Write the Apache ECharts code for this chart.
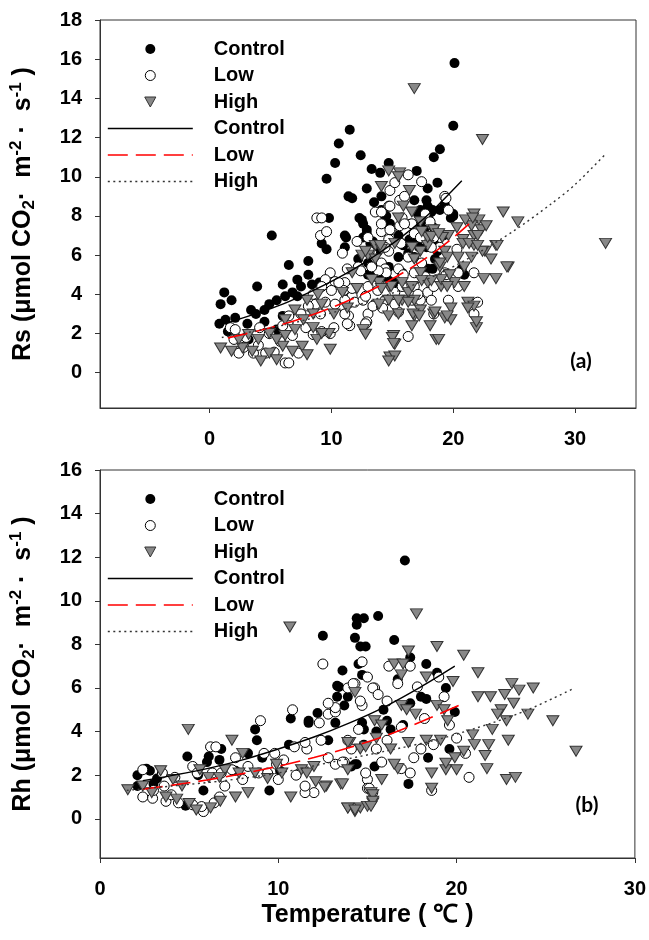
<!DOCTYPE html>
<html lang="en">
<head>
<meta charset="UTF-8">
<style>
  html, body { margin: 0; height: 100%; background: #fff; }
</style>
</head>
<body>
<div id="chart" style="width:649px;height:940px;"></div>
<script src="https://cdn.jsdelivr.net/npm/echarts@6/dist/echarts.min.js"></script>
<script>
// ---- data: [temperature, flux] ----
var rsControl = [[20.1,15.8],[20.0,12.6],[11.5,12.4],[10.6,11.7],[12.4,11.1],[10.3,10.7],[14.7,10.7],[18.9,11.4],[18.4,11.0],[9.6,9.9],
  [13.3,10.4],[14.0,10.2],[17.0,10.3],[12.9,9.4],[11.4,9.0],[11.7,8.9],[13.5,8.7],[14.1,9.0],[17.9,9.4],[18.7,9.7],
  [17.9,8.5],[18.3,8.3],[19.3,8.6],[20.0,8.1],[9.8,7.9],[5.1,7.0],[12.3,7.9],[12.6,7.6],[12.9,7.3],[9.2,6.6],
  [9.6,6.3],[11.2,6.9],[14.1,8.3],[14.4,8.0],[14.7,7.5],[12.6,6.9],[13.4,6.7],[15.5,7.0],[15.9,6.5],[16.3,6.1],
  [16.8,5.9],[17.3,8.3],[17.7,8.0],[18.4,7.4],[19.2,7.0],[19.8,7.9],[18.4,6.6],[17.3,7.1],[16.8,6.6],[18.7,6.2],
  [20.7,5.3],[20.9,5.0],[18.3,5.3],[13.0,5.6],[13.0,5.0],[13.6,4.9],[14.1,5.0],[15.2,4.6],[15.8,5.1],[15.5,5.9],
  [14.7,5.4],[8.1,5.7],[6.5,5.5],[8.1,5.0],[7.2,4.75],[6.0,4.5],[3.9,4.4],[1.2,4.1],[0.9,3.5],[1.8,3.7],
  [0.8,2.5],[1.3,2.7],[2.1,2.8],[3.4,3.2],[3.8,3.0],[4.5,3.2],[4.9,3.5],[5.5,3.7],[6.2,3.9],[6.8,4.1],
  [7.2,3.9],[7.5,4.4],[8.4,4.5],[9.0,4.6],[3.1,2.5],[4.5,2.6],[5.5,2.2],[3.2,1.7],[6.0,2.9],[11.1,6.4],
  [15.8,6.6],[16.4,6.8],[17.3,7.5],[17.8,8.8],[16.8,8.8],[14.7,4.7],[12.2,5.8],[13.8,6.2],[16.5,7.6],[17.6,7.3],
  [18.9,8.3],[18.0,7.8],[1.5,2.1],[12.5,7.8],[12.9,7.1],[13.2,6.6],[14.5,8.0],[14.8,7.6],[17.1,8.1],[18.2,8.2],
  [17.4,7.8],[16.7,6.8],[17.2,6.4],[17.8,6.4],[18.5,5.8],[17.9,5.3],[13.3,5.1],[13.9,5.4],[11.1,7.0],[20.0,8.0]];
var rsLow = [[8.8,7.9],[9.2,7.9],[9.1,7.0],[9.6,7.2],[10.9,6.1],[9.9,5.1],[9.5,4.75],[10.3,4.65],[11.1,4.6],[11.0,4.2],
  [11.7,3.9],[11.9,3.6],[12.1,6.7],[13.0,6.2],[13.3,6.1],[14.7,8.5],[14.8,9.3],[16.3,10.1],[15.6,8.8],[15.8,7.9],
  [14.1,7.2],[14.9,7.3],[16.6,7.6],[19.3,9.0],[17.7,8.1],[18.1,7.7],[14.1,5.6],[14.4,5.3],[15.5,5.3],[16.8,5.1],
  [17.7,4.9],[19.3,5.1],[21.7,5.1],[12.6,3.7],[13.0,3.0],[13.4,3.4],[14.1,3.4],[14.4,3.7],[15.5,3.1],[16.3,1.85],
  [16.6,3.7],[17.3,3.7],[18.4,3.0],[19.6,3.7],[21.7,3.0],[11.5,2.4],[11.4,2.9],[12.9,2.6],[10.6,4.6],[10.0,4.2],
  [1.7,2.3],[2.1,2.2],[2.0,1.7],[2.8,1.3],[3.6,1.0],[4.0,1.4],[4.6,1.0],[5.3,1.05],[6.2,0.5],[6.5,0.5],
  [7.3,1.0],[4.1,2.3],[4.9,2.0],[6.0,2.4],[6.5,2.9],[7.5,3.0],[8.7,3.5],[8.1,3.4],[9.1,3.0],[9.5,3.6],
  [10.3,3.5],[11.1,3.7],[6.8,1.9],[7.9,2.3],[8.5,1.95],[9.2,2.1],[9.9,2.0],[10.2,2.3],[8.5,4.0],[9.2,4.4],
  [13.0,4.4],[13.8,4.2],[15.2,4.1],[15.8,4.4],[16.8,4.4],[17.9,4.1],[18.4,4.4],[19.6,4.7],[20.4,4.4],[13.0,6.9],
  [14.1,7.6],[14.7,6.8],[15.6,7.5],[16.8,7.1],[17.3,6.9],[18.4,6.9],[18.9,6.4],[14.7,6.2],[15.2,9.7],[13.6,8.2],
  [16.0,9.0],[19.6,8.3],[12.2,5.4],[20.3,6.3],[22.0,3.6],[3.0,1.8],[5.8,1.6],[2.4,1.0],[17.4,9.75],[19.4,8.9],
  [14.8,8.5],[14.1,8.2],[16.0,7.6],[14.8,7.3],[13.1,6.2],[14.4,6.4],[15.7,6.6],[16.3,5.9],[18.2,6.4],[17.4,5.6],
  [15.9,5.0],[14.5,5.1],[13.85,5.2],[13.3,5.4],[12.4,5.2],[11.3,5.3],[11.7,4.3],[12.8,3.9],[14.2,3.3],[15.2,3.5],
  [17.1,4.0],[18.2,3.7],[19.4,5.0],[20.4,5.1],[11.3,2.5],[12.8,2.5],[11.1,3.0]];
var rsHigh = [[16.8,14.5],[22.4,11.9],[14.7,10.3],[15.6,10.2],[14.1,9.5],[16.4,9.3],[24.1,8.2],[25.3,7.7],[21.7,8.1],[22.1,7.8],
  [21.5,7.5],[22.3,7.3],[21.7,7.0],[23.5,6.5],[21.7,6.5],[22.6,6.2],[21.5,5.9],[24.5,5.4],[23.5,4.8],[19.6,7.0],
  [20.8,6.8],[19.3,6.2],[20.4,5.9],[20.9,5.4],[17.9,6.5],[17.3,6.2],[16.6,6.4],[16.8,5.8],[17.3,5.1],[17.9,4.6],
  [19.0,4.4],[20.1,4.6],[20.9,4.4],[21.2,3.6],[21.7,3.4],[21.9,2.3],[21.9,2.6],[19.8,3.3],[19.3,2.8],[18.4,3.0],
  [18.1,2.4],[18.6,1.7],[17.3,3.2],[16.8,3.7],[16.3,4.1],[15.8,3.7],[14.7,4.4],[13.9,4.6],[13.3,4.75],[12.6,2.2],
  [15.1,1.9],[15.2,1.45],[14.8,0.8],[15.2,0.85],[14.7,0.6],[13.9,3.5],[14.7,2.9],[15.5,3.0],[16.8,2.9],[16.6,2.4],
  [13.6,6.5],[13.0,6.0],[12.5,6.0],[14.1,6.3],[15.2,6.6],[15.5,7.9],[16.6,8.2],[17.3,7.7],[17.9,6.9],[18.4,7.3],
  [19.1,6.9],[11.7,5.1],[10.9,4.1],[10.2,3.0],[9.8,2.0],[9.9,1.2],[0.9,1.26],[1.8,1.1],[2.7,1.26],[3.5,1.1],
  [4.2,0.6],[4.9,1.0],[5.5,0.66],[6.0,1.35],[6.8,1.1],[7.6,1.35],[8.0,0.92],[8.8,1.7],[9.2,2.0],[8.5,2.3],
  [7.7,2.7],[7.0,3.2],[8.0,3.7],[9.2,3.5],[8.9,4.0],[4.9,2.0],[5.5,1.7],[6.2,1.9],[4.0,1.7],[3.2,1.95],
  [7.0,2.2],[8.5,3.0],[6.2,2.7],[2.4,1.7],[23.6,6.5],[24.4,5.4],[23.1,5.8],[22.4,6.2],[18.8,1.7],[19.8,2.7],
  [21.2,3.3],[22.5,4.8],[21.0,7.8],[20.3,7.4],[18.9,5.4],[19.7,5.0],[12.1,4.3],[11.3,3.3],[32.5,6.6],
  [15.5,10.0],[15.9,8.5],[17.4,7.2],[18.2,6.95],[18.8,7.1],[19.5,5.9],[20.8,6.6],[21.6,7.9],[22.7,7.5],[22.0,7.0],
  [21.3,6.6],[22.0,6.5],[18.9,5.6],[19.0,4.75],[19.5,4.4],[18.2,4.7],[17.4,4.7],[16.6,4.4],[15.8,4.6],[14.9,4.4],
  [14.1,4.3],[14.7,3.7],[15.5,3.7],[16.3,3.6],[16.7,3.0],[17.2,2.9],[18.5,3.1],[19.5,2.9],[12.8,1.96],[15.0,1.8],
  [15.1,1.5],[13.6,5.8],[14.0,6.5],[12.8,6.2]];

var rhControl = [[2.1,2.0],[2.6,2.3],[2.8,2.2],[2.1,1.5],[3.2,1.85],[4.9,2.86],[6.1,2.86],[6.0,2.6],[6.8,3.2],[6.7,2.7],
  [8.7,4.1],[8.8,3.6],[8.3,3.0],[9.1,2.8],[5.8,1.3],[4.8,0.6],[9.5,1.3],[10.6,3.4],[10.7,4.6],[11.7,4.5],
  [12.5,8.4],[13.2,4.4],[13.3,6.1],[13.6,6.8],[14.3,8.3],[14.4,9.2],[14.8,9.2],[14.4,8.9],[15.6,9.3],[14.6,7.9],
  [14.9,7.9],[14.5,7.1],[14.7,6.6],[13.3,5.6],[13.7,5.2],[14.8,4.1],[14.4,2.5],[15.4,2.4],[14.1,2.4],[15.5,4.0],
  [17.1,11.85],[16.5,8.2],[17.4,7.4],[18.3,7.1],[18.9,6.7],[19.4,6.0],[19.9,4.9],[13.4,6.05],[13.9,5.6],[12.2,4.85],
  [11.7,4.4],[14.7,4.4],[16.1,4.5],[16.3,4.1],[17.0,4.3],[18.0,5.6],[18.3,5.5],[17.4,5.3],[19.6,3.2],[18.4,2.8],
  [17.3,1.6],[14.8,3.4],[14.3,2.5],[3.0,1.6],[5.5,2.0],[7.6,2.2],[16.7,6.4],[15.9,5.0],[12.8,3.6],[10.1,2.2]];
var rhLow = [[2.4,1.0],[2.95,0.94],[3.7,0.8],[4.4,0.73],[5.2,0.64],[5.8,0.33],[6.4,0.73],[6.7,1.0],[5.7,0.56],[3.6,1.5],
  [4.2,1.9],[6.2,3.3],[6.5,3.3],[6.3,2.1],[6.8,2.1],[7.6,2.8],[7.4,2.25],[8.0,1.8],[8.9,2.1],[9.0,4.5],
  [9.4,2.1],[10.0,1.8],[10.3,2.7],[10.9,3.3],[11.6,3.2],[10.8,5.0],[12.5,7.1],[12.3,4.4],[12.8,4.8],[13.2,4.9],
  [13.2,2.5],[12.8,2.8],[12.0,1.2],[11.5,1.2],[12.4,3.6],[13.7,2.6],[13.9,3.6],[14.1,3.2],[14.5,4.1],[14.7,5.2],
  [13.9,6.0],[14.3,6.2],[14.7,7.2],[15.0,6.5],[15.4,6.0],[15.0,1.8],[15.0,1.4],[2.4,2.25],[3.5,2.1],[5.2,2.4],
  [5.45,2.1],[8.3,2.4],[9.2,3.0],[9.8,3.0],[16.2,7.0],[17.4,7.0],[15.3,6.0],[16.7,6.2],[17.8,6.05],[19.3,5.6],
  [19.6,4.3],[20.0,3.7],[20.7,1.9],[18.6,1.3],[18.7,3.4],[18.0,3.2],[17.6,2.8],[16.9,2.3],[17.4,2.1],[15.8,2.6],
  [15.1,1.4],[15.3,1.2],[14.9,2.1],[15.5,3.2],[13.2,5.1],[12.8,5.3],[11.5,3.5],[11.5,1.5],[13.6,2.6],[16.1,3.6],
  [16.9,4.2],[16.1,5.4],[15.6,5.7],[14.2,6.2],[14.6,5.4],[3.0,1.3],[4.0,1.1],[7.0,1.5],[9.9,2.5],[11.0,2.0],
  [18.2,4.6],[19.0,6.5],[20.5,3.0]];
var rhHigh = [[1.56,1.33],[2.4,1.5],[3.4,2.2],[3.7,1.0],[4.3,0.9],[5.0,0.7],[5.4,0.4],[6.2,0.5],[6.75,0.8],[4.95,4.1],
  [7.4,3.6],[7.0,2.25],[7.8,2.1],[7.6,1.0],[8.3,1.2],[8.7,2.1],[9.4,1.85],[10.65,8.8],[10.7,1.0],[10.2,2.1],
  [11.3,2.25],[12.0,2.4],[12.7,1.5],[13.5,1.6],[13.9,2.25],[13.9,0.5],[14.3,0.33],[14.6,0.5],[15.0,0.57],[15.3,0.73],
  [15.2,1.2],[14.0,3.5],[14.6,3.2],[15.4,4.5],[14.3,5.8],[5.6,2.25],[6.1,1.9],[4.6,1.5],[4.1,1.8],[6.7,1.9],
  [17.75,9.4],[17.3,7.7],[18.9,7.9],[20.4,7.5],[21.2,6.7],[21.2,5.6],[21.9,5.6],[22.7,5.7],[23.1,6.2],[23.5,5.9],
  [23.2,5.3],[22.5,5.0],[22.3,4.8],[22.8,4.5],[24.0,4.8],[25.4,4.5],[26.7,3.1],[22.0,4.1],[22.9,3.6],[20.9,3.85],
  [21.8,3.4],[21.6,2.9],[21.7,2.3],[22.8,1.8],[23.3,1.9],[21.0,3.4],[20.4,3.1],[19.9,2.8],[19.4,2.25],[20.0,2.25],
  [18.6,2.1],[18.6,1.4],[19.4,2.55],[19.1,3.6],[18.9,5.2],[19.3,5.0],[19.8,6.3],[18.3,6.5],[16.9,6.6],[16.5,7.1],
  [17.0,7.1],[16.9,5.2],[17.2,5.0],[17.7,4.8],[16.7,2.3],[16.5,2.5],[15.8,1.8],[15.3,1.1],[15.3,0.8],[15.2,0.57],
  [13.9,0.49],[14.3,0.4],[15.8,4.3],[16.3,3.2],[15.5,3.7],[13.9,3.5],[14.9,3.3],[13.6,1.6],[12.6,1.45],[12.1,1.7],
  [11.6,2.1],[17.3,3.5],[18.3,3.6],[19.5,4.5],[2.9,1.2],[8.0,3.0],[9.9,2.5],[24.3,6.0]];

// fitted curves, points
var rsControlFit = [[1.5,2.55],[4,3.05],[6,3.5],[8,4.05],[10,4.66],[12,5.35],[14,6.15],[16,7.05],[18,8.1],[20.7,9.8]];
var rsLowFit = [[1.5,1.78],[4,2.14],[6,2.47],[8,2.86],[10,3.32],[12,3.85],[14,4.45],[16,5.15],[18,5.95],[20,6.9],[21.3,7.6]];
var rsHighFit = [[1,1.8],[4,2.16],[7,2.56],[10,3.05],[13,3.62],[16,4.3],[19,5.1],[22,6.1],[25,7.25],[28,8.6],[30,9.6],[32.4,11.1]];
var rhControlFit = [[2.4,1.75],[4,1.98],[6,2.3],[8,2.7],[10,3.2],[12,3.75],[14,4.4],[16,5.15],[18,6.05],[19.9,7.0]];
var rhLowFit = [[2.4,1.36],[4,1.53],[6,1.78],[8,2.07],[10,2.41],[12,2.81],[14,3.27],[16,3.8],[18,4.45],[20.5,5.34]];
var rhHighFit = [[1.5,1.3],[4,1.5],[7,1.75],[10,2.1],[13,2.6],[16,3.1],[19,3.65],[22,4.4],[24,5.0],[26.5,5.95]];

var xTicksA = [0, 10, 20, 30];
var yTicksA = [0, 2, 4, 6, 8, 10, 12, 14, 16, 18];
var yTicksB = [0, 2, 4, 6, 8, 10, 12, 14, 16];

var FONT = 'Liberation Sans, Arial, sans-serif';
var boldText = {fontFamily: FONT, fontWeight: 'bold', fontSize: 20, color: '#000'};
var titleText = {fontFamily: FONT, fontWeight: 'bold', fontSize: 25, color: '#000'};

var myChart = echarts.init(document.getElementById('chart'));

function yAxisFor(idx, max, ticks, prefix) {
    return {
        gridIndex: idx, type: 'value', min: -1.8, max: max,
        axisLine: {show: true, onZero: false, lineStyle: {color: '#333', width: 1}},
        axisTick: {show: true, inside: false, length: 5, customValues: ticks, lineStyle: {color: '#333'}},
        axisLabel: Object.assign({margin: 18, customValues: ticks}, boldText),
        splitLine: {show: false},
        name: prefix + ' (\u03bcmol CO{sub|2}\u00b7  m{sup|-2} \u00b7  s{sup|-1} )',
        nameLocation: 'middle', nameGap: 62,
        nameTextStyle: Object.assign({lineHeight: 30, rich: {
            sub: {fontFamily: FONT, fontWeight: 'bold', fontSize: 17, verticalAlign: 'bottom', lineHeight: 18},
            sup: {fontFamily: FONT, fontWeight: 'bold', fontSize: 17, verticalAlign: 'top', lineHeight: 18}
        }}, titleText)
    };
}

function scatter(name, data, idx, kind) {
    var s = {
        name: name, type: 'scatter', data: data, xAxisIndex: idx, yAxisIndex: idx,
        symbol: 'circle', symbolSize: 10, z: 2,
        itemStyle: {color: '#000', opacity: 1}
    };
    if (kind === 'open') s.itemStyle = {color: '#fff', borderColor: '#000', borderWidth: 1, opacity: 1};
    if (kind === 'tri') {
        s.symbol = 'triangle'; s.symbolRotate = 180; s.symbolSize = [12, 10]; s.z = 3;
        s.itemStyle = {color: '#888888', borderColor: '#333', borderWidth: 1, opacity: 1};
    }
    return s;
}

function fit(name, data, idx, ls) {
    return {
        name: name, type: 'line', data: data, xAxisIndex: idx, yAxisIndex: idx,
        symbol: 'none', smooth: 0.3, z: 5, lineStyle: ls
    };
}

var solidLine = {color: '#000', width: 1.4, type: 'solid'};
var redDash = {color: '#ff0000', width: 1.6, type: [20, 8]};
var dotLine = {color: '#333', width: 1.4, type: [2, 3.5]};
var noMark = {color: 'rgba(0,0,0,0)', borderColor: 'rgba(0,0,0,0)', borderWidth: 0};

function legendAt(top) {
    return {
        orient: 'vertical', left: 107, top: top, padding: 0,
        itemWidth: 85, itemHeight: 10, itemGap: 6.5, selectedMode: false,
        symbolKeepAspect: true,
        textStyle: Object.assign({lineHeight: 20, padding: [0, 0, 0, 16]}, boldText),
        formatter: function (n) { return n.replace(' fit', ''); },
        data: [
            {name: 'Control', icon: 'circle', itemStyle: {color: '#000', borderWidth: 0}},
            {name: 'Low', icon: 'circle', itemStyle: {color: '#fff', borderColor: '#000', borderWidth: 1}},
            {name: 'High', icon: 'path://M0,0L10,0L5,9Z', itemStyle: {color: '#888888', borderColor: '#333', borderWidth: 1}},
            {name: 'Control fit', lineStyle: solidLine, itemStyle: noMark},
            {name: 'Low fit', lineStyle: redDash, itemStyle: noMark},
            {name: 'High fit', lineStyle: dotLine, itemStyle: noMark}
        ]
    };
}

myChart.setOption({
    animation: false,
    grid: [
        {left: 97, right: 13, top: 20, height: 388, show: true, borderColor: '#333', borderWidth: 1},
        {left: 97, right: 13, top: 470, height: 388, show: true, borderColor: '#333', borderWidth: 1}
    ],
    legend: [legendAt(39), legendAt(489)],
    xAxis: [
        {
            gridIndex: 0, type: 'value', min: -9, max: 35,
            axisLine: {show: true, onZero: false, lineStyle: {color: '#333'}},
            axisTick: {show: true, length: 5, customValues: xTicksA, lineStyle: {color: '#333'}},
            axisLabel: Object.assign({margin: 21, customValues: xTicksA}, boldText),
            splitLine: {show: false}
        },
        {
            gridIndex: 1, type: 'value', min: 0, max: 30, interval: 10,
            axisLine: {show: true, onZero: false, lineStyle: {color: '#333'}},
            axisTick: {show: true, length: 5, lineStyle: {color: '#333'}},
            axisLabel: Object.assign({margin: 21}, boldText),
            splitLine: {show: false},
            name: 'Temperature ( \u2103 )', nameLocation: 'middle', nameGap: 45,
            nameTextStyle: titleText
        }
    ],
    yAxis: [yAxisFor(0, 18, yTicksA, 'Rs'), yAxisFor(1, 16, yTicksB, 'Rh')],
    graphic: [
        {type: 'text', x: 581, y: 361, style: {text: '(a)', fontFamily: 'Lato, Open Sans, sans-serif', fontWeight: 'bold', fontSize: 21, fill: '#000', align: 'center', verticalAlign: 'middle'}},
        {type: 'text', x: 587, y: 805, style: {text: '(b)', fontFamily: 'Lato, Open Sans, sans-serif', fontWeight: 'bold', fontSize: 21, fill: '#000', align: 'center', verticalAlign: 'middle'}}
    ],
    series: [
        scatter('Control', rsControl, 0, 'fill'),
        scatter('Low', rsLow, 0, 'open'),
        scatter('High', rsHigh, 0, 'tri'),
        fit('Control fit', rsControlFit, 0, solidLine),
        fit('Low fit', rsLowFit, 0, redDash),
        fit('High fit', rsHighFit, 0, dotLine),
        scatter('Control', rhControl, 1, 'fill'),
        scatter('Low', rhLow, 1, 'open'),
        scatter('High', rhHigh, 1, 'tri'),
        fit('Control fit', rhControlFit, 1, solidLine),
        fit('Low fit', rhLowFit, 1, redDash),
        fit('High fit', rhHighFit, 1, dotLine)
    ]
});
</script>
</body>
</html>
